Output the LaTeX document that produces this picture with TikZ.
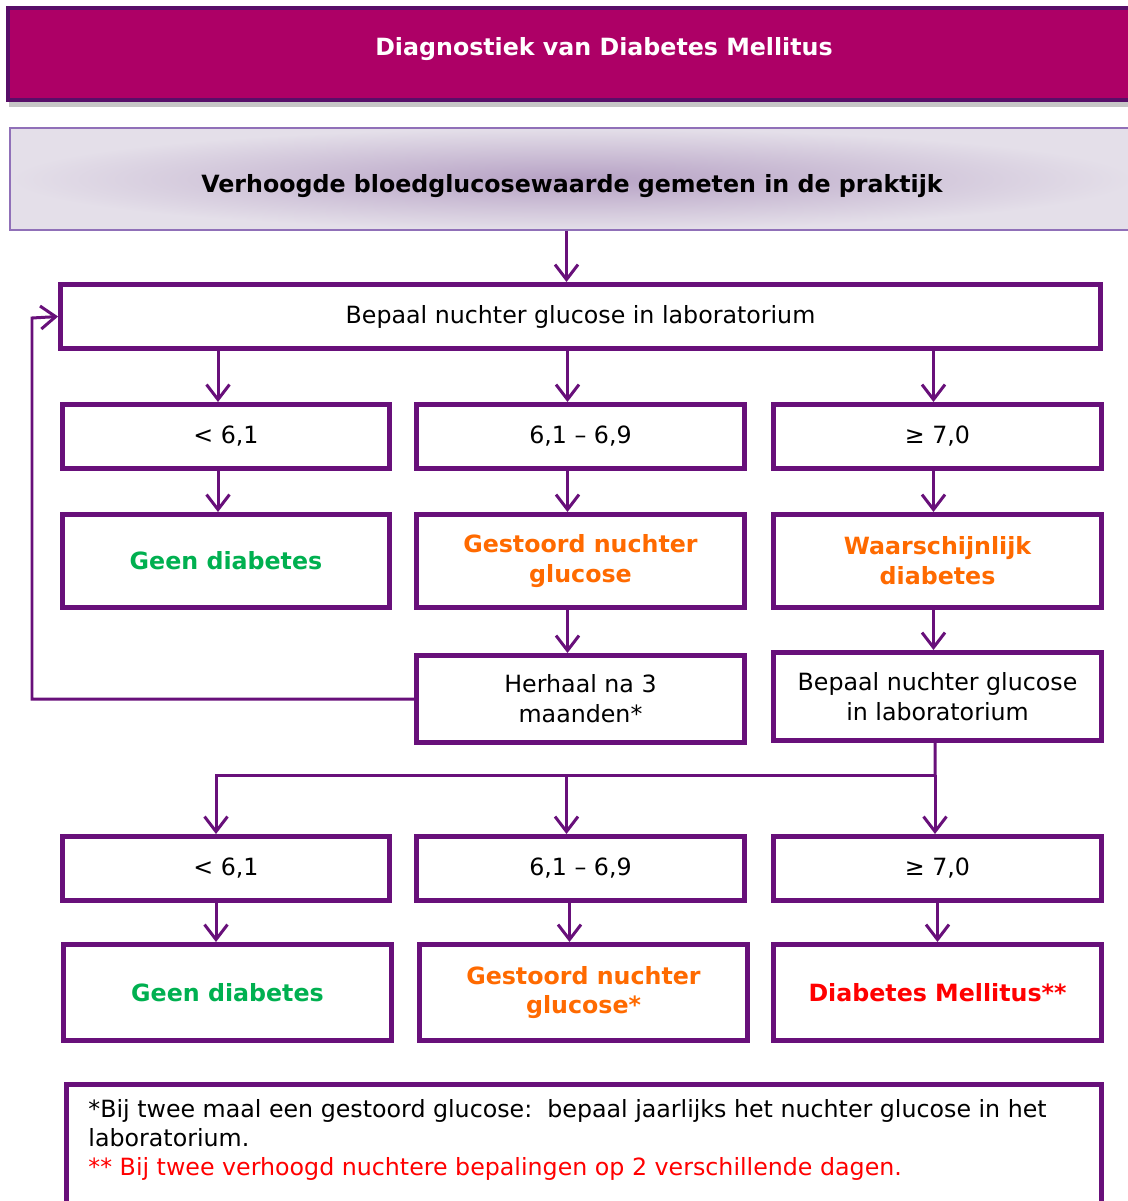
\documentclass[tikz,border=0pt]{standalone}
\usepackage{fontspec}
\setmainfont{DejaVu Sans}
\usetikzlibrary{arrows.meta,shadows}
\definecolor{lila}{HTML}{68107A}
\definecolor{magenta}{HTML}{AD0066}
\definecolor{lavendel}{HTML}{9070B8}
\definecolor{midden}{HTML}{B6A1C4}
\definecolor{rand}{HTML}{E4DFE9}
\definecolor{groen}{HTML}{00B050}
\definecolor{oranje}{HTML}{FF6A00}
\definecolor{rood}{HTML}{FF0000}
\tikzset{
	box/.style={draw=lila,line width=0.1cm,minimum width=6.55cm,minimum height=1.28cm,align=center,inner sep=0,font=\fontsize{13.5}{17}\selectfont},
	uitslag/.style={box,font=\fontsize{13.5}{17}\selectfont\bfseries},
	pijl/.style={draw=lila,line width=0.06cm,-{Straight Barb[length=0.3cm,width=0.46cm,line width=0.06cm]}},
}
\begin{document}
\begin{tikzpicture}[x=0.02cm,y=-0.02cm]
	\useasboundingbox (0,0) rectangle (1128,1201);
	\node[draw=lila!85!black,fill=magenta,line width=0.08cm,minimum width=23.84cm,inner sep=0,text height=0.94cm,text depth=0.9cm,text=white,font=\fontsize{13.5}{17}\selectfont\bfseries,drop shadow={shadow xshift=0.02cm,shadow yshift=-0.14cm,opacity=0.45}] (0) at (604,54) {Diagnostiek van Diabetes Mellitus};
	\node[draw=lavendel,line width=0.04cm,minimum width=22.48cm,inner sep=0,text height=1.28cm,text depth=0.76cm,shading=radial,inner color=midden,outer color=rand,font=\fontsize{13.5}{17}\selectfont\bfseries] (1) at (572,179) {Verhoogde bloedglucosewaarde gemeten in de praktijk};
	\node[box,minimum width=20.8cm] (2) at (580.5,316.5) {Bepaal nuchter glucose in laboratorium};
	% eerste meting
	\node[box] (3) at (226,436.5) {< 6,1};
	\node[box] (4) at (580.5,436.5) {6,1 – 6,9};
	\node[box] (5) at (937.5,436.5) {≥ 7,0};
	\node[uitslag,minimum height=1.86cm,text=groen] (6) at (226,561) {Geen diabetes};
	\node[uitslag,minimum height=1.86cm,text=oranje] (7) at (580.5,561) {Gestoord nuchter\\glucose};
	\node[uitslag,minimum height=1.86cm,text=oranje] (8) at (937.5,561) {Waarschijnlijk\\diabetes};
	\node[box,minimum height=1.74cm] (9) at (580.5,699) {Herhaal na 3\\maanden*};
	\node[box,minimum height=1.76cm] (10) at (937.5,696.5) {Bepaal nuchter glucose\\in laboratorium};
	% tweede meting
	\node[box] (11) at (226,868.5) {< 6,1};
	\node[box] (12) at (580.5,868.5) {6,1 – 6,9};
	\node[box] (13) at (937.5,868.5) {≥ 7,0};
	\node[uitslag,minimum height=1.92cm,text=groen] (14) at (227.5,992.5) {Geen diabetes};
	\node[uitslag,minimum height=1.92cm,text=oranje] (15) at (583.5,992.5) {Gestoord nuchter\\glucose*};
	\node[uitslag,minimum height=1.92cm,text=rood] (16) at (937.5,992.5) {Diabetes Mellitus**};
	\node[draw=lila,line width=0.1cm,anchor=north west,inner xsep=0.44cm,inner ysep=0.3cm,font=\fontsize{13.5}{16.5}\selectfont] (17) at (64,1082) {\parbox[c][2.6cm][t]{19.82cm}{*Bij twee maal een gestoord glucose:\ \ bepaal jaarlijks het nuchter glucose in het\\laboratorium.\\\textcolor{rood}{** Bij twee verhoogd nuchtere bepalingen op 2 verschillende dagen.}}};
	\coordinate (terug) at (32,318);
	\coordinate (splits) at (935,775);
	\draw[pijl] ([xshift=-0.28cm]2.north |- 1.south) -- ([xshift=-0.28cm]2.north);
	\draw[pijl] ([xshift=-0.16cm]3.north |- 2.south) -- ([xshift=-0.16cm]3.north);
	\draw[pijl] ([xshift=-0.26cm]4.north |- 2.south) -- ([xshift=-0.26cm]4.north);
	\draw[pijl] ([xshift=-0.08cm]5.north |- 2.south) -- ([xshift=-0.08cm]5.north);
	\draw[pijl] ([xshift=-0.16cm]3.south) -- ([xshift=-0.16cm]6.north);
	\draw[pijl] ([xshift=-0.26cm]4.south) -- ([xshift=-0.26cm]7.north);
	\draw[pijl] ([xshift=-0.08cm]5.south) -- ([xshift=-0.08cm]8.north);
	\draw[pijl] ([xshift=-0.26cm]7.south) -- ([xshift=-0.26cm]9.north);
	\draw[pijl] ([xshift=-0.08cm]8.south) -- ([xshift=-0.08cm]10.north);
	\draw[pijl] (9.west) -| (terug) -- (2.west);
	\draw[line width=0.06cm,draw=lila] ([xshift=-0.05cm]10.south) -- (splits);
	\draw[pijl] (splits) -| ([xshift=-0.2cm]11.north);
	\draw[pijl] ([xshift=-0.28cm]12.north |- splits) -- ([xshift=-0.28cm]12.north);
	\draw[pijl] (splits) -- (splits |- 13.north);
	\draw[pijl] ([xshift=-0.2cm]11.south) -- ([xshift=-0.2cm]11.south |- 14.north);
	\draw[pijl] ([xshift=-0.22cm]12.south) -- ([xshift=-0.22cm]12.south |- 15.north);
	\draw[pijl] (13.south) -- (16.north);
\end{tikzpicture}
\end{document}
